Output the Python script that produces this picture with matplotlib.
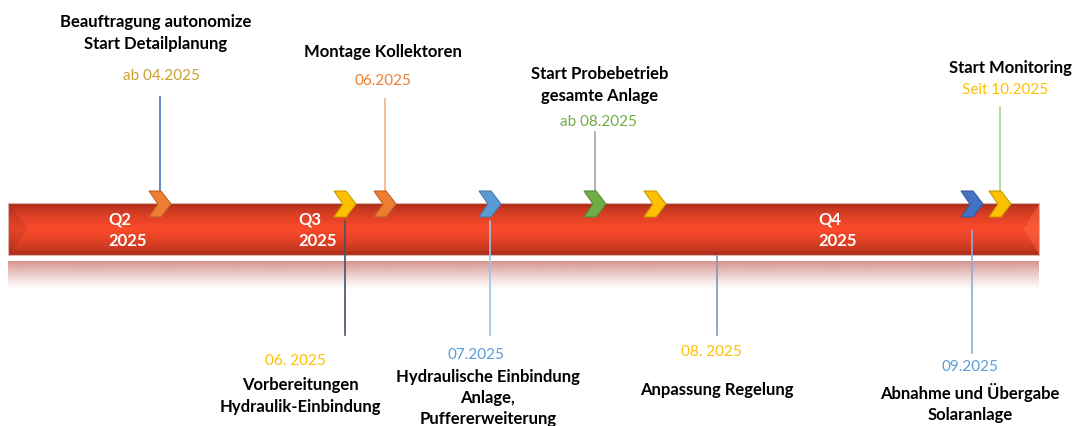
import numpy as np
import matplotlib.pyplot as plt
from matplotlib.patches import Polygon, Rectangle
from matplotlib.colors import to_rgb

plt.rcParams['font.family'] = ['Lato', 'DejaVu Sans']

# quarters written on the bar
quarters = ['Q2\n2025', 'Q3\n2025', 'Q4\n2025']
quarter_x = [108, 298, 818]

# chevrons on the bar (timeline position, colour)
marker_x = [160, 345, 385, 490, 595, 655, 972, 1000]
marker_colors = ['#ED7D31', '#FFC000', '#ED7D31', '#5B9BD5',
                 '#70AD47', '#FFC000', '#4472C4', '#FFC000']

# milestones above the bar
top_titles = ['Beauftragung autonomize\nStart Detailplanung', 'Montage Kollektoren',
              'Start Probebetrieb\ngesamte Anlage', 'Start Monitoring']
top_dates = ['ab 04.2025', '06.2025', 'ab 08.2025', 'Seit 10.2025']
top_x = [160, 385, 595, 1000]

# milestones below the bar
bottom_titles = ['Vorbereitungen\nHydraulik-Einbindung',
                 'Hydraulische Einbindung\nAnlage,\nPuffererweiterung',
                 'Anpassung Regelung', 'Abnahme und Übergabe\nSolaranlage']
bottom_dates = ['06. 2025', '07.2025', '08. 2025', '09.2025']
bottom_x = [345, 490, 717, 972]

# layout (pixel coordinates, y pointing down)
top_title_xy = [(156, 33), (383, 52), (600, 85), (1010, 68)]
top_date_xy = [(161, 76), (383, 81), (598, 122), (1005, 90)]
top_line_y = [(98, 193), (100, 195), (133, 192), (108, 192)]
top_line_c = ['#4472C4', '#F4B183', '#A5A5A5', '#A9D18E']
top_date_c = ['#C9A12B', '#ED7D31', '#70AD47', '#FFC000']

bot_date_xy = [(295, 361), (476, 355), (711, 352), (970, 367)]
bot_title_xy = [(300, 396), (488, 398), (717, 390), (970, 403)]
bot_line_y = [(222, 336), (222, 336), (257, 336), (232, 354)]
bot_line_c = ['#44546A', '#9DC3E6', '#8497B0', '#8FAADC']
bot_date_c = ['#FFC000', '#5B9BD5', '#FFC000', '#5B9BD5']

W, H = 1077, 427
fig = plt.figure(figsize=(W / 100, H / 100), dpi=100)
ax = fig.add_axes([0, 0, 1, 1])
ax.set_xlim(0, W)
ax.set_ylim(H, 0)
ax.axis('off')

# bar with vertical shading
bx0, bx1, by0, by1 = 8, 1039, 204, 256
nh, nw = 60, 1031
t = np.linspace(0, 1, nh)[:, None]
dark = np.array(to_rgb('#B0301C'))
light = np.array(to_rgb('#FA4A2B'))
prof = np.clip(1 - np.abs(t - 0.5) * 2.2, 0, 1) ** 0.6
img = dark + (light - dark) * prof[..., None]
img = np.repeat(img, nw, axis=1)
px = np.arange(nw)[None, :]
tri = 1 - np.abs(t - 0.5) * 2
# subtle darker bevel at the left end, lighter bevel at the right end
left = px < 20 * tri
img[left] = img[left] * 0.92
right = (nw - px) < 16 * tri
img[right] = img[right] * 0.55 + np.array(to_rgb('#FF6A45')) * 0.45
ax.imshow(img, extent=[bx0, bx1, by1, by0], aspect='auto', zorder=2)
ax.add_patch(Rectangle((bx0, by0), bx1 - bx0, by1 - by0, fill=False,
                       edgecolor='#D8B4AC', lw=0.8, zorder=3))

# reflection below the bar
r = np.linspace(0, 1, 40)[:, None]
refl = np.ones((40, 400, 4))
refl[..., :3] = np.array(to_rgb('#C8706A'))
refl[..., 3] = (0.75 * (1 - r) ** 1.3) * np.ones((1, 400))
ax.imshow(refl, extent=[bx0, bx1, 292, 262], aspect='auto', zorder=1)

for q, x in zip(quarters, quarter_x):
    ax.text(x, 230, q, color='white', fontsize=12, fontweight='bold',
            ha='left', va='center', linespacing=1.45, zorder=5)

# chevrons
for x, c in zip(marker_x, marker_colors):
    y0, y1, ym = 192, 218, 205
    pts = [(x - 11, y0), (x + 1, y0), (x + 11, ym), (x + 1, y1), (x - 11, y1), (x - 2, ym)]
    ax.add_patch(Polygon(pts, closed=True, facecolor=c,
                         edgecolor=tuple(np.array(to_rgb(c)) * 0.8), lw=0.8, zorder=6))

# milestones above
for i in range(len(top_titles)):
    ax.text(*top_title_xy[i], top_titles[i], ha='center', va='center', fontsize=12,
            fontweight='bold', color='black', linespacing=1.4)
    ax.text(*top_date_xy[i], top_dates[i], ha='center', va='center', fontsize=11,
            color=top_date_c[i])
    ax.plot([top_x[i], top_x[i]], top_line_y[i], color=top_line_c[i], lw=1.2, zorder=4)

# milestones below
for i in range(len(bottom_titles)):
    ax.text(*bot_date_xy[i], bottom_dates[i], ha='center', va='center', fontsize=11,
            color=bot_date_c[i])
    ax.text(*bot_title_xy[i], bottom_titles[i], ha='center', va='center', fontsize=12,
            fontweight='bold', color='black', linespacing=1.4)
    ax.plot([bottom_x[i], bottom_x[i]], bot_line_y[i], color=bot_line_c[i], lw=1.2, zorder=4)

fig.savefig('out.png', dpi=100)
